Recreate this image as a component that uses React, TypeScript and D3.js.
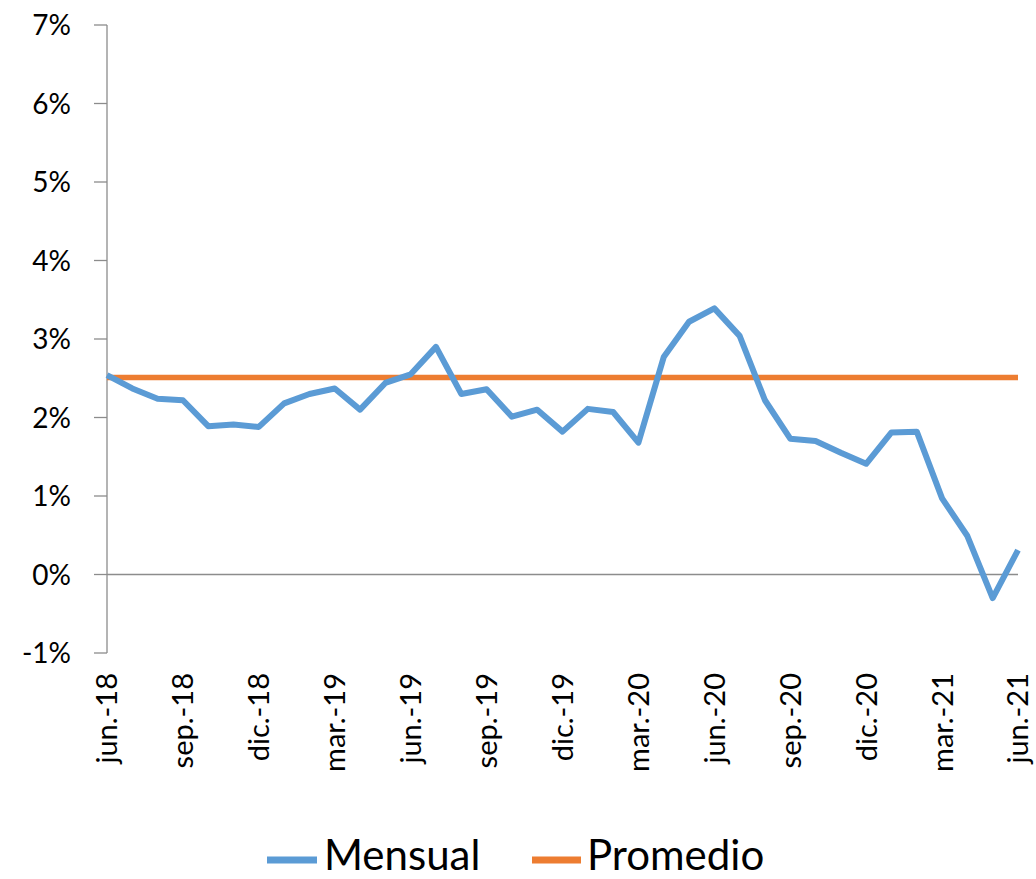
import React from "react";
import * as d3 from "d3";

const months = [
  "jun.-18","jul.-18","ago.-18","sep.-18","oct.-18","nov.-18","dic.-18",
  "ene.-19","feb.-19","mar.-19","abr.-19","may.-19","jun.-19","jul.-19","ago.-19","sep.-19","oct.-19","nov.-19","dic.-19",
  "ene.-20","feb.-20","mar.-20","abr.-20","may.-20","jun.-20","jul.-20","ago.-20","sep.-20","oct.-20","nov.-20","dic.-20",
  "ene.-21","feb.-21","mar.-21","abr.-21","may.-21","jun.-21",
];

const mensual = [
  2.54, 2.37, 2.24, 2.22, 1.89, 1.91, 1.88,
  2.18, 2.30, 2.37, 2.10, 2.44, 2.55, 2.90, 2.30, 2.36, 2.01, 2.10, 1.82,
  2.11, 2.07, 1.68, 2.77, 3.22, 3.39, 3.04, 2.22, 1.73, 1.70, 1.55, 1.41,
  1.81, 1.82, 0.97, 0.49, -0.30, 0.31,
];

const promedio = months.map(() => 2.51);

const yTicks = [-1, 0, 1, 2, 3, 4, 5, 6, 7];
const xLabelIdx = [0, 3, 6, 9, 12, 15, 18, 21, 24, 27, 30, 33, 36];

const FONT = "Lato, 'Open Sans', sans-serif";

export default function App() {
  const W = 1036, H = 879;
  const x = d3.scaleLinear().domain([0, months.length - 1]).range([107, 1018]);
  const y = d3.scaleLinear().domain([-1, 7]).range([653, 25]);
  const line = d3.line<number>().x((_, i) => x(i)).y((d) => y(d));
  const axisColor = "#8c8c8c";

  return (
    <svg width={W} height={H} style={{ position: "absolute", left: 0, top: 0, background: "#fff" }}>
      {/* y axis */}
      <line x1={107} x2={107} y1={y(7)} y2={y(-1)} stroke={axisColor} strokeWidth={1.3} />
      {yTicks.map((t) => (
        <g key={t}>
          <line x1={94} x2={107} y1={y(t)} y2={y(t)} stroke={axisColor} strokeWidth={1.3} />
          <text x={71} y={y(t)} dy="0.36em" textAnchor="end" fontFamily={FONT} fontSize={28} fill="#000">
            {`${t}%`}
          </text>
        </g>
      ))}
      {/* zero line */}
      <line x1={107} x2={x(months.length - 1)} y1={y(0)} y2={y(0)} stroke={axisColor} strokeWidth={1.3} />
      {/* x labels */}
      {xLabelIdx.map((i) => (
        <text
          key={i}
          transform={`translate(${x(i)},${673}) rotate(-90)`}
          dy="0.36em"
          textAnchor="end"
          fontFamily={FONT}
          fontSize={29}
          fill="#000"
        >
          {months[i]}
        </text>
      ))}
      {/* series */}
      <path d={line(promedio) || ""} fill="none" stroke="#ED7D31" strokeWidth={5.5} />
      <path d={line(mensual) || ""} fill="none" stroke="#5B9BD5" strokeWidth={6} strokeLinejoin="round" strokeLinecap="butt" />
      {/* legend */}
      <line x1={267} x2={317} y1={860} y2={860} stroke="#5B9BD5" strokeWidth={7} />
      <text x={324} y={870} fontFamily={FONT} fontSize={42} fill="#000">Mensual</text>
      <line x1={532} x2={581} y1={860} y2={860} stroke="#ED7D31" strokeWidth={7} />
      <text x={587} y={870} fontFamily={FONT} fontSize={42} fill="#000">Promedio</text>
    </svg>
  );
}
